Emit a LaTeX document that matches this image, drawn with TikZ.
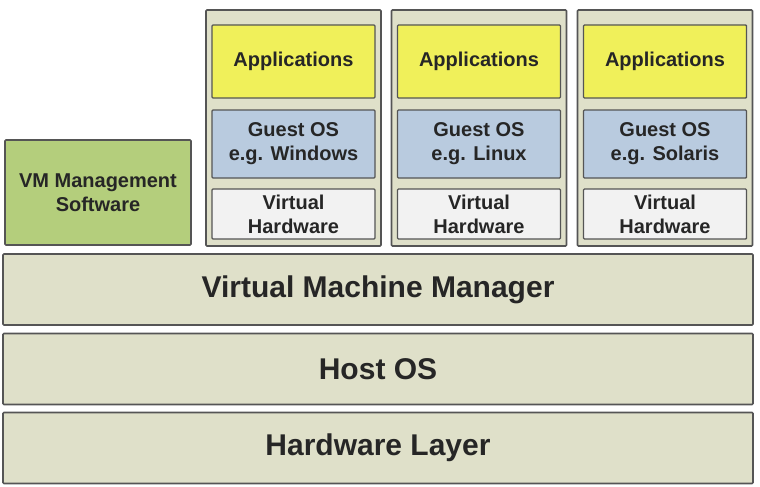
\documentclass[tikz,border=0pt]{standalone}
\usepackage{fontspec}
\setmainfont{Liberation Sans}
\usetikzlibrary{positioning,patterns}

\definecolor{barfill}{HTML}{DFE0C9}
\definecolor{appyellow}{HTML}{F0F05A}
\definecolor{guestblue}{HTML}{B9CBDF}
\definecolor{hwwhite}{HTML}{F2F2F2}
\definecolor{mgmtgreen}{HTML}{B4CE7C}
\definecolor{edgegray}{HTML}{555555}

\tikzset{
  layer/.style={rectangle,draw=edgegray,line width=1.6pt,fill=barfill,rounded corners=1pt,
    minimum width=750pt,minimum height=71pt,font=\bfseries\fontsize{30}{34}\selectfont,text=black!85},
  vmbox/.style={rectangle,draw=edgegray,line width=1.6pt,fill=barfill,rounded corners=1pt,
    minimum width=175pt,minimum height=236pt},
  inner/.style={rectangle,draw=edgegray,line width=1.4pt,rounded corners=1pt,minimum width=163pt,
    align=center,font=\bfseries\fontsize{20}{24}\selectfont,text=black!85},
}

\begin{document}
\begin{tikzpicture}[x=1pt,y=-1pt]
  \useasboundingbox (0,0) rectangle (760,487);

  % Layers at the bottom
  \node[layer] (vmm) at (378,289.5) {Virtual Machine Manager};
  \node[layer] (host) at (378,369) {Host OS};
  \node[layer] (hw) at (378,448) {Hardware Layer};

  % Management software
  \node[rectangle,draw=edgegray,line width=1.6pt,fill=mgmtgreen,rounded corners=1pt,
    minimum width=186pt,minimum height=105pt,align=center,text=black!85,
    font=\bfseries\fontsize{20}{24}\selectfont] (mgmt) at (98,192.5) {VM Management\\Software};

  % Virtual machines
  \foreach \vm/\cx/\os in {1/293.5/Windows,2/479/Linux,3/665/Solaris}{
    \node[vmbox] (vm\vm) at (\cx,128) {};
    \node[inner,fill=appyellow,minimum height=73pt] (app\vm) at (\cx,61.5) {Applications};
    \node[inner,fill=guestblue,minimum height=68pt] (guest\vm) at (\cx,144) {Guest OS\\e.g. \os};
    \node[inner,fill=hwwhite,minimum height=50pt] (vhw\vm) at (\cx,214) {Virtual\\Hardware};
  }
\end{tikzpicture}
\end{document}
